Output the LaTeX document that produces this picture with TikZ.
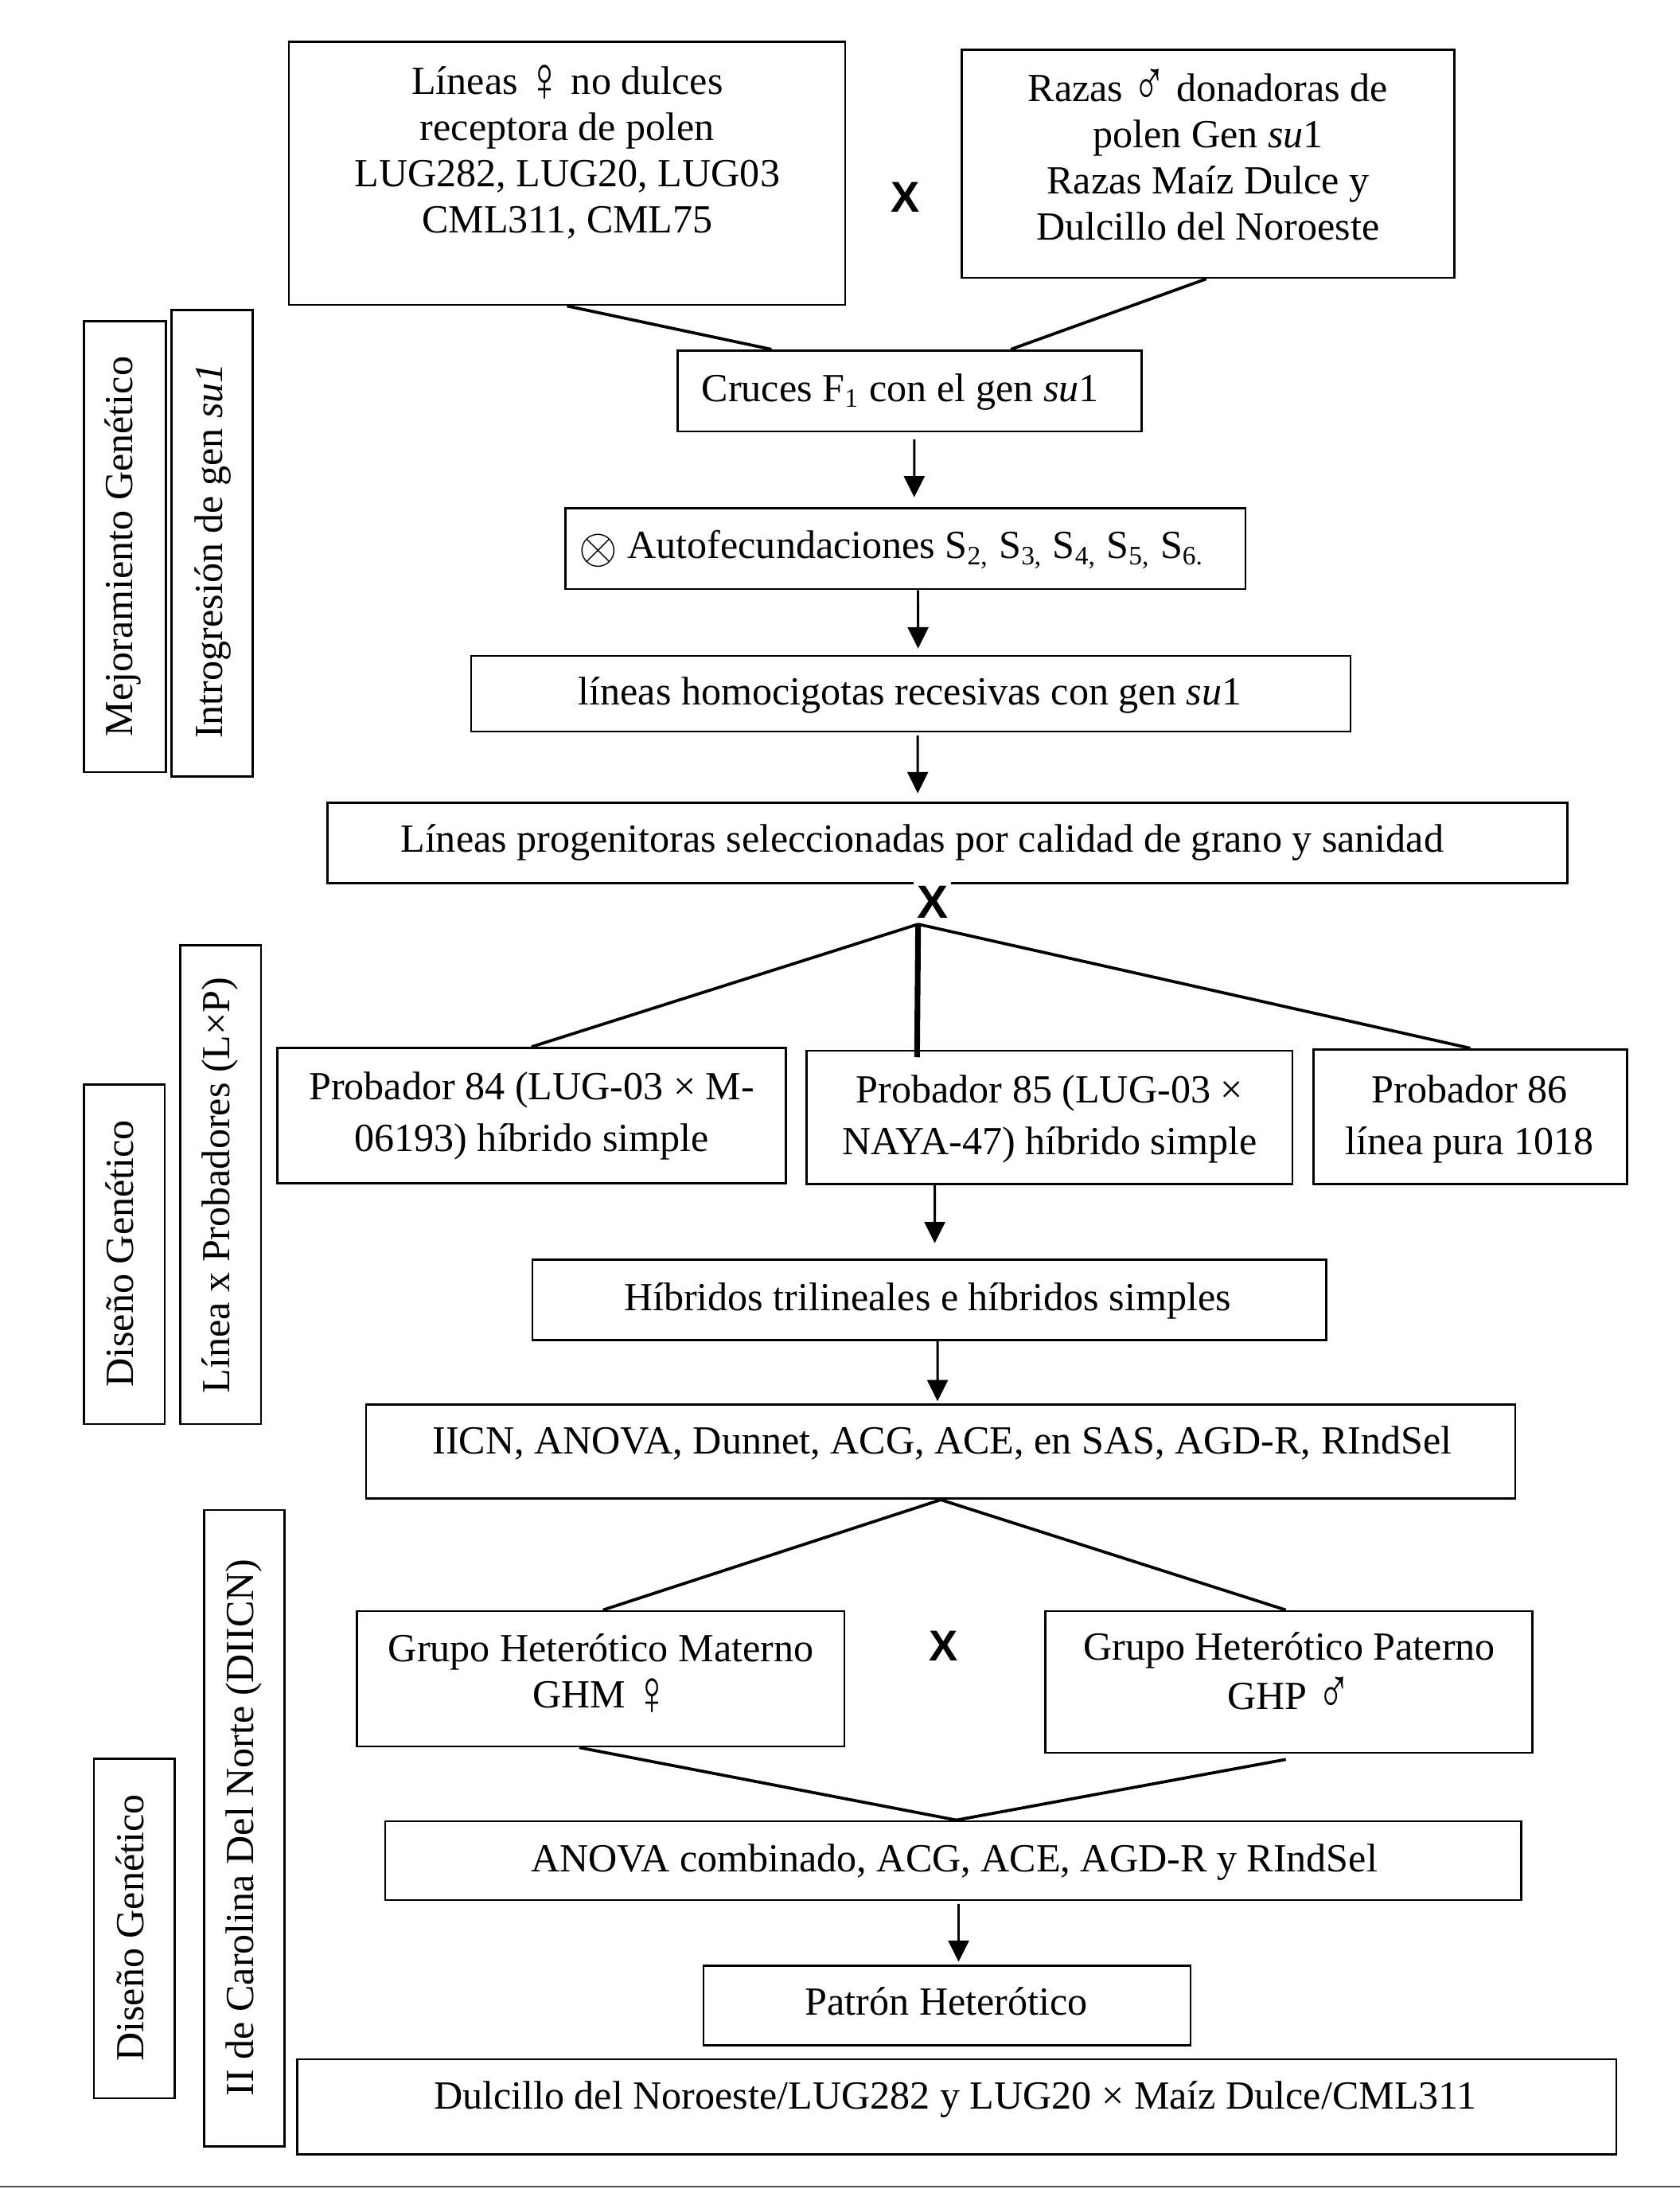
\documentclass[tikz,border=0pt]{standalone}
\usepackage{graphicx}
\usepackage{fontspec}
\setmainfont{Liberation Serif}
\newfontfamily\xsansfont{Liberation Sans}
\usetikzlibrary{arrows.meta,calc}
\newcommand\femsym{\raisebox{-2.2pt}{\scalebox{1.12}[1.62]{♀}}}
\newcommand\malsym{\raisebox{-1.2pt}{\scalebox{1.12}[1.62]{♂}}}
\newcommand\selfsym{\raisebox{-1.4pt}{\scalebox{1.25}{$\otimes$}}}
\begin{document}
\begin{tikzpicture}[x=0.42pt,y=-0.42pt,
 box/.style 2 args={draw,line width=0.65pt,inner sep=0pt,minimum width={#1*0.42pt},minimum height={#2*0.42pt}},
 txt/.style={align=center,inner sep=0pt,font=\fontsize{12}{13.9}\selectfont},
 txtp/.style={align=center,inner sep=0pt,font=\fontsize{12}{15.6}\selectfont},
 rot/.style={rotate=90,inner sep=0pt,font=\fontsize{12}{13.9}\selectfont},
 xmark/.style={inner sep=1pt,font=\xsansfont\bfseries\fontsize{13}{13}\selectfont},
 link/.style={line width=0.9pt},
 arr/.style={line width=0.7pt,-{Triangle[length=6.4pt,width=6.2pt]}},
]
\useasboundingbox (0,0) rectangle (1203.5,1568);

% top boxes
\node[box={398.5}{188.6}] (tl) at (406.25,124.1) {};
\node[txt] (tlt) at (406.5,110.5) {\strut Líneas \femsym\ no dulces\\\strut receptora de polen\\\strut LUG282, LUG20, LUG03\\\strut CML311, CML75};
\node[box={353}{163.4}] (tr) at (865.5,117.3) {};
\node[txt] (trt) at (865.5,115.5) {\strut Razas \malsym\ donadoras de\\\strut polen Gen \textit{su}1\\\strut Razas Maíz Dulce y\\\strut Dulcillo del Noroeste};
\node[xmark] (x1) at (648.5,141.5) {X};

\node[box={332.5}{58}] (cr) at (651.75,280) {};
\node[txt] (crt) at (645,281) {\strut Cruces F\textsubscript{1} con el gen \textit{su}1};

\node[box={487.4}{58}] (au) at (648.7,393) {};
\node[txt] (aut) at (638.7,393.4) {\strut\selfsym\ Autofecundaciones S\textsubscript{2,} S\textsubscript{3,} S\textsubscript{4,} S\textsubscript{5,} S\textsubscript{6.}};

\node[box={630}{54.2}] (lh) at (652.6,496.9) {};
\node[txt] (lht) at (652,498) {\strut líneas homocigotas recesivas con gen \textit{su}1};

\node[box={888.2}{57.8}] (lp) at (678.9,603.9) {};
\node[txt] (lpt) at (660.7,604) {\strut Líneas progenitoras seleccionadas por calidad de grano y sanidad};

\node[xmark,fill=white,inner ysep=2pt,font=\xsansfont\bfseries\fontsize{14}{14}\selectfont] (x2) at (668,646) {X};
\coordinate (apex) at (657.8,662);

% probadores
\node[box={364.3}{97}] (p84) at (380.85,799.1) {};
\node[txtp] (p84t) at (381,799) {\strut Probador 84 (LUG-03 × M-\\\strut 06193) híbrido simple};
\node[box={348}{95.4}] (p85) at (752,800.3) {};
\node[txtp] (p85t) at (752,801) {\strut Probador 85 (LUG-03 ×\\\strut NAYA-47) híbrido simple};
\node[box={224.7}{96.4}] (p86) at (1053.35,799.8) {};
\node[txtp] (p86t) at (1053,801) {\strut Probador 86\\\strut línea pura 1018};

\node[box={568.6}{57.7}] (hb) at (665.7,931.15) {};
\node[txt] (hbt) at (664.5,932) {\strut Híbridos trilineales e híbridos simples};

\node[box={823.3}{67.5}] (iicn) at (674,1039.75) {};
\node[txt] (iicnt) at (675,1035) {\strut IICN, ANOVA, Dunnet, ACG, ACE, en SAS, AGD-R, RIndSel};

\node[box={349.2}{97}] (ghm) at (430.4,1202.5) {};
\node[txt] (ghmt) at (430.5,1200) {\strut Grupo Heterótico Materno\\\strut GHM \femsym};
\node[xmark] (x3) at (676,1179) {X};
\node[box={349}{101.5}] (ghp) at (923.5,1204.75) {};
\node[txt] (ghpt) at (923.7,1200) {\strut Grupo Heterótico Paterno\\\strut GHP \malsym};

\node[box={814}{56.5}] (anc) at (683,1332.75) {};
\node[txt] (anct) at (683.7,1334) {\strut ANOVA combinado, ACG, ACE, AGD-R y RIndSel};

\node[box={349}{57}] (pat) at (678.5,1436.5) {};
\node[txt] (patt) at (678,1436.5) {\strut Patrón Heterótico};

\node[box={945}{68}] (dul) at (685.5,1509) {};
\node[txt] (dult) at (684.5,1504) {\strut Dulcillo del Noroeste/LUG282 y LUG20 × Maíz Dulce/CML311};

% side boxes
\node[box={59}{323}] (mj) at (89.5,391.5) {};
\node[rot] (mjt) at (88.5,391.5) {\strut Mejoramiento Genético};
\node[box={58}{334}] (ig) at (152,389) {};
\node[rot] (igt) at (152.5,394.5) {\strut Introgresión de gen \textit{su1}};
\node[box={58}{243}] (dg1) at (89,898.5) {};
\node[rot] (dg1t) at (89,898) {\strut Diseño Genético};
\node[box={58}{343}] (lx) at (158,848.5) {};
\node[rot] (lxt) at (158,849) {\strut Línea x Probadores (L×P)};
\node[box={58}{243}] (dg2) at (96.3,1381.5) {};
\node[rot] (dg2t) at (96.3,1381) {\strut Diseño Genético};
\node[box={57.5}{456}] (ii) at (175.1,1309.6) {};
\node[rot] (iit) at (175,1309) {\strut II de Carolina Del Norte (DIICN)};

% connectors
\draw[link] (tl.south) -- ($(cr.north west)+(68,0)$);
\draw[link] ($(tr.south west)+(176,0)$) -- ($(cr.north west)+(239.5,0)$);
\draw[arr] ($(cr.south)+(3.3,5)$) -- ($(au.north)+(6.3,-7)$);
\draw[arr] ($(au.south)+(9,0)$) -- ($(lh.north)+(5.2,-4.5)$);
\draw[arr] ($(lh.south)+(4.9,2)$) -- ($(lp.north)+(-21.4,-6)$);
\draw[link] (apex) -- (p84.north);
\draw[link] (apex) -- (p86.north);
\draw[line width=1.7pt] (apex) -- ($(p85.north west)+(79.8,5.5)$);
\draw[arr] ($(p85.south)+(-82.3,0)$) -- ($(hb.north)+(4,-11)$);
\draw[arr] ($(hb.south)+(6,0)$) -- ($(iicn.north)+(-2.3,-1.5)$);
\draw[link] (iicn.south) -- ($(ghm.north west)+(177,0)$);
\draw[link] (iicn.south) -- ($(ghp.north west)+(173,0)$);
\draw[link] ($(ghm.south west)+(160,0)$) -- ($(anc.north west)+(410,0)$);
\draw[link] ($(ghp.south west)+(173,4)$) -- ($(anc.north west)+(410,0)$);
\draw[arr] ($(anc.south)+(3.8,2)$) -- ($(pat.north)+(8.3,-2)$);

% bottom rule
\draw[black!70,line width=0.5pt] (0,1566.5) -- (1203.5,1566.5);
\end{tikzpicture}
\end{document}
